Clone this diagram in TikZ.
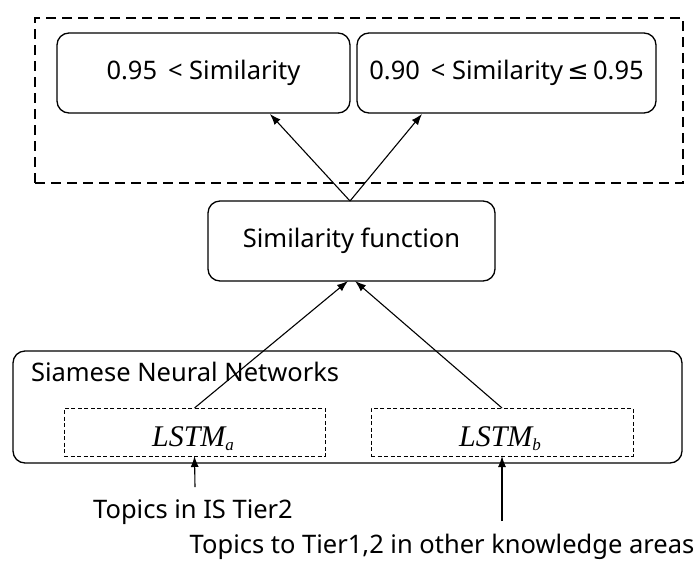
\documentclass[tikz,border=0pt]{standalone}
\usepackage{fontspec}
\setmainfont{Noto Sans}
\newfontfamily\mathserif{Liberation Serif}
\newfontfamily\symfont{DejaVu Sans}
\usetikzlibrary{arrows.meta}
\newcommand\lstmsub[1]{\raisebox{-0.3ex}{\fontsize{17}{17}\selectfont #1}}
\begin{document}
\begin{tikzpicture}[x=1pt,y=-1pt,
  every node/.style={inner sep=0pt, outer sep=0pt, font=\fontsize{25.5}{30}\selectfont},
  roundbox/.style={draw, line width=1.3pt, rounded corners=12pt},
  lstmbox/.style={draw, line width=1pt, dash pattern=on 4pt off 2.5pt},
  groupbox/.style={draw, line width=2.6pt, dash pattern=on 10pt off 6pt},
  arr/.style={line width=1.1pt, -{Latex[length=11pt,width=8pt]}},
  lstm/.style={font=\mathserif\itshape\fontsize{30}{32}\selectfont}
]
\useasboundingbox (0,0) rectangle (700,562);

% threshold group
\node[groupbox, minimum width=648pt, minimum height=165pt] (group) at (359,100.5) {};
\node[roundbox, minimum width=293pt, minimum height=80pt] (b1) at (203.5,73) {0.95\, < Similarity};
\node[roundbox, minimum width=299pt, minimum height=80pt] (b2) at (506.5,73) {0.90\, < Similarity{\symfont\,≤}\,0.95};

% similarity function
\node[roundbox, minimum width=287pt, minimum height=80pt] (sim) at (351.5,241) {Similarity function};

% siamese network
\node[roundbox, minimum width=669pt, minimum height=112pt] (snn) at (347.5,407) {};
\node[anchor=west] (snntitle) at (31,372) {Siamese Neural Networks};
\node[lstmbox, minimum width=261pt, minimum height=48pt] (la) at (194.5,432) {};
\node[lstmbox, minimum width=262pt, minimum height=48pt] (lb) at (502,432) {};
\node[lstm, anchor=base] (lat) at (193,446) {LSTM\lstmsub{a}};
\node[lstm, anchor=base] (lbt) at (500,446) {LSTM\lstmsub{b}};

% inputs
\node (t1) at (193,512) {Topics in IS Tier2};
\node (t2) at (442,547) {Topics to Tier1,2 in other knowledge areas};

% connector ends
\coordinate (simtop) at (350,201);
\coordinate (tipA) at (270,114);
\coordinate (tipB) at (422,114);
\coordinate (simA) at (348,281);
\coordinate (simB) at (355,281);
\coordinate (inA) at (195,487);
\coordinate (inB) at (502,521);

\draw[arr] (simtop) -- (tipA);
\draw[arr] (simtop) -- (tipB);
\draw[arr] (la.north) -- (simA);
\draw[arr] (lb.north) -- (simB);
\draw[arr] (inA) -- (la.south);
\draw[arr] (inB) -- (lb.south);
\end{tikzpicture}
\end{document}
